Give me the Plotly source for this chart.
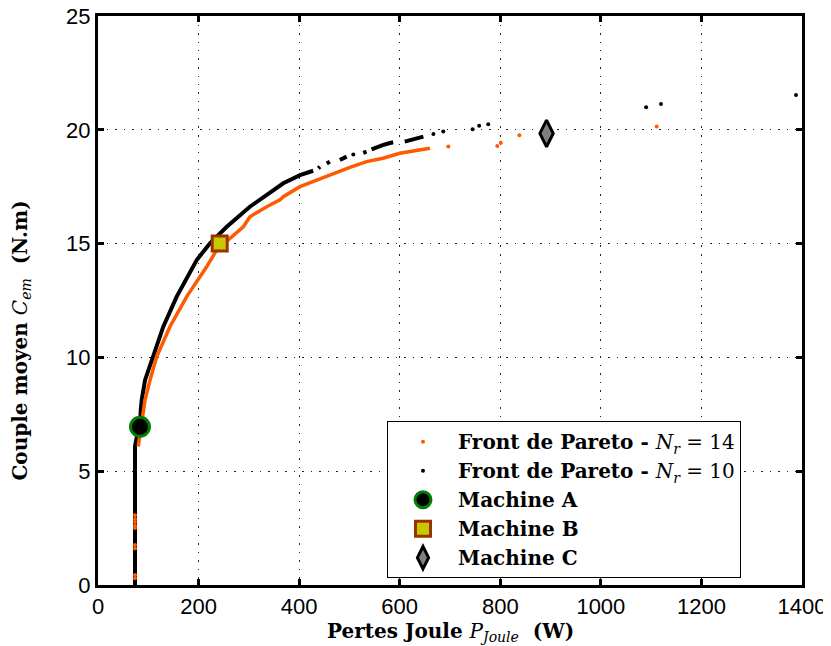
import plotly.graph_objects as go

# ---- Data ----
# Nr = 10 (black) – dense part of the front, segments separated by None
nr10_line_x = [73.6, 73.6, 78, 83.5, 85, 86.9, 93.5, 110, 129.8, 156.5, 196.3, 222.7, 256, 302, 335, 368.5, 401.7, 428,
               None, 438, 441.5, None, 455, 461, None, 481, 494.5, None, 527.5, 534,
               None, 544, 555, 566, 577, 587, None, 610, 620, 634, 647]
nr10_line_y = [0.0, 6.1, 6.6, 6.95, 7.69, 8.13, 9.0, 10.03, 11.35, 12.67, 14.28, 15.01, 15.74, 16.62, 17.13, 17.65, 18.01, 18.2,
               None, 18.31, 18.38, None, 18.52, 18.6, None, 18.67, 18.82, None, 18.99, 19.04,
               None, 19.14, 19.25, 19.33, 19.4, 19.45, None, 19.48, 19.55, 19.62, 19.7]
# Nr = 10 isolated points
nr10_pts_x = [507.7, 667, 686.6, 745, 758, 776, 1090, 1119.5, 1388]
nr10_pts_y = [18.92, 19.82, 19.92, 20.02, 20.18, 20.24, 20.99, 21.13, 21.53]

# Nr = 14 (orange) – dense part
nr14_line_x = [80, 83.5, 90, 93.5, 103.4, 116.7, 143, 176.4, 216, 236, 289, 302, 335.4, 362, 368.5, 401.7, 435, 468,
               501, 534, 567, 600, 633.7, 660]
nr14_line_y = [6.08, 6.6, 7.69, 8.13, 9.0, 10.03, 11.35, 12.67, 13.98, 14.72, 15.74, 16.18, 16.62, 16.92, 17.06, 17.5,
               17.79, 18.09, 18.35, 18.6, 18.75, 18.97, 19.08, 19.19]
# Nr = 14 isolated points
nr14_pts_x = [73.6, 73.6, 73.6, 73.6, 73.6, 73.6, 73.6, 73.6, 73.6, 696.6, 794, 801, 838, 1111]
nr14_pts_y = [0.3, 0.44, 1.6, 1.76, 2.5, 2.6, 2.77, 2.9, 3.07, 19.27, 19.29, 19.43, 19.76, 20.14]

machines = ["Machine A", "Machine B", "Machine C"]
machine_x = [83.5, 242, 892]
machine_y = [6.95, 15.0, 19.84]

x_ticks = [0, 200, 400, 600, 800, 1000, 1200, 1400]
y_ticks = [0, 5, 10, 15, 20, 25]

x_title = "<b>Pertes Joule </b><i>P</i><sub><i>Joule</i></sub><b>  (W)</b>"
y_title = "<b>Couple moyen </b><i>C</i><sub><i>em</i></sub><b>  (N.m)</b>"

BLACK = "#000000"
ORANGE = "#ff5a00"
SERIF = "DejaVu Serif"

fig = go.Figure()

fig.add_trace(go.Scatter(x=nr10_line_x, y=nr10_line_y, mode="lines", connectgaps=False,
                         line=dict(color=BLACK, width=4), showlegend=False, hoverinfo="skip"))
fig.add_trace(go.Scatter(x=nr14_line_x, y=nr14_line_y, mode="lines",
                         line=dict(color=ORANGE, width=3.5), showlegend=False, hoverinfo="skip"))
fig.add_trace(go.Scatter(x=nr14_pts_x, y=nr14_pts_y, mode="markers",
                         marker=dict(color=ORANGE, size=4),
                         name="<b>Front de Pareto - </b><i>N</i><sub><i>r</i></sub> = 14"))
fig.add_trace(go.Scatter(x=nr10_pts_x, y=nr10_pts_y, mode="markers",
                         marker=dict(color=BLACK, size=4),
                         name="<b>Front de Pareto - </b><i>N</i><sub><i>r</i></sub> = 10"))

styles = [
    dict(symbol="circle", size=19, color="#000000", line=dict(color="#008000", width=3)),
    dict(symbol="square", size=15, color="#c8c800", line=dict(color="#993300", width=3)),
    dict(symbol="diamond-tall", size=19, color="#808080", line=dict(color="#000000", width=3)),
]
for name, mx, my, st in zip(machines, machine_x, machine_y, styles):
    fig.add_trace(go.Scatter(x=[mx], y=[my], mode="markers", marker=st, name="<b>" + name + "</b>"))

axis_common = dict(
    showline=True, linewidth=3, linecolor="black", mirror="ticks",
    ticks="inside", ticklen=6, tickwidth=2.5, tickcolor="black",
    showgrid=True, gridcolor="#222222", gridwidth=1, griddash="1.5px,7px",
    zeroline=False, automargin=False, ticklabeloverflow="allow",
    tickfont=dict(family="Liberation Sans", size=22, color="black"),
)

fig.update_xaxes(range=[0, 1400], tickvals=x_ticks, ticktext=[str(v) for v in x_ticks], **axis_common)
fig.update_yaxes(range=[0, 25], tickvals=y_ticks, ticktext=[str(v) for v in y_ticks], **axis_common)

fig.add_annotation(text=x_title, xref="paper", yref="paper", x=0.5, y=-0.083,
                   xanchor="center", yanchor="middle", showarrow=False,
                   font=dict(family=SERIF, size=20, color="black"))
fig.add_annotation(text=y_title, xref="paper", yref="paper", x=-0.109, y=0.43,
                   xanchor="center", yanchor="middle", showarrow=False, textangle=-90,
                   font=dict(family=SERIF, size=20, color="black"))

# page body has an 8px margin: the figure is sized/placed to compensate
fig.update_layout(
    width=823, height=638,
    margin=dict(l=90, r=29, t=8, b=61),
    plot_bgcolor="white", paper_bgcolor="white",
    legend=dict(x=0.4105, y=0.012, xanchor="left", yanchor="bottom",
                bgcolor="white", bordercolor="black", borderwidth=1,
                font=dict(family=SERIF, size=20, color="black"),
                itemwidth=60, tracegroupgap=0),
)

fig.write_html("out.html")
